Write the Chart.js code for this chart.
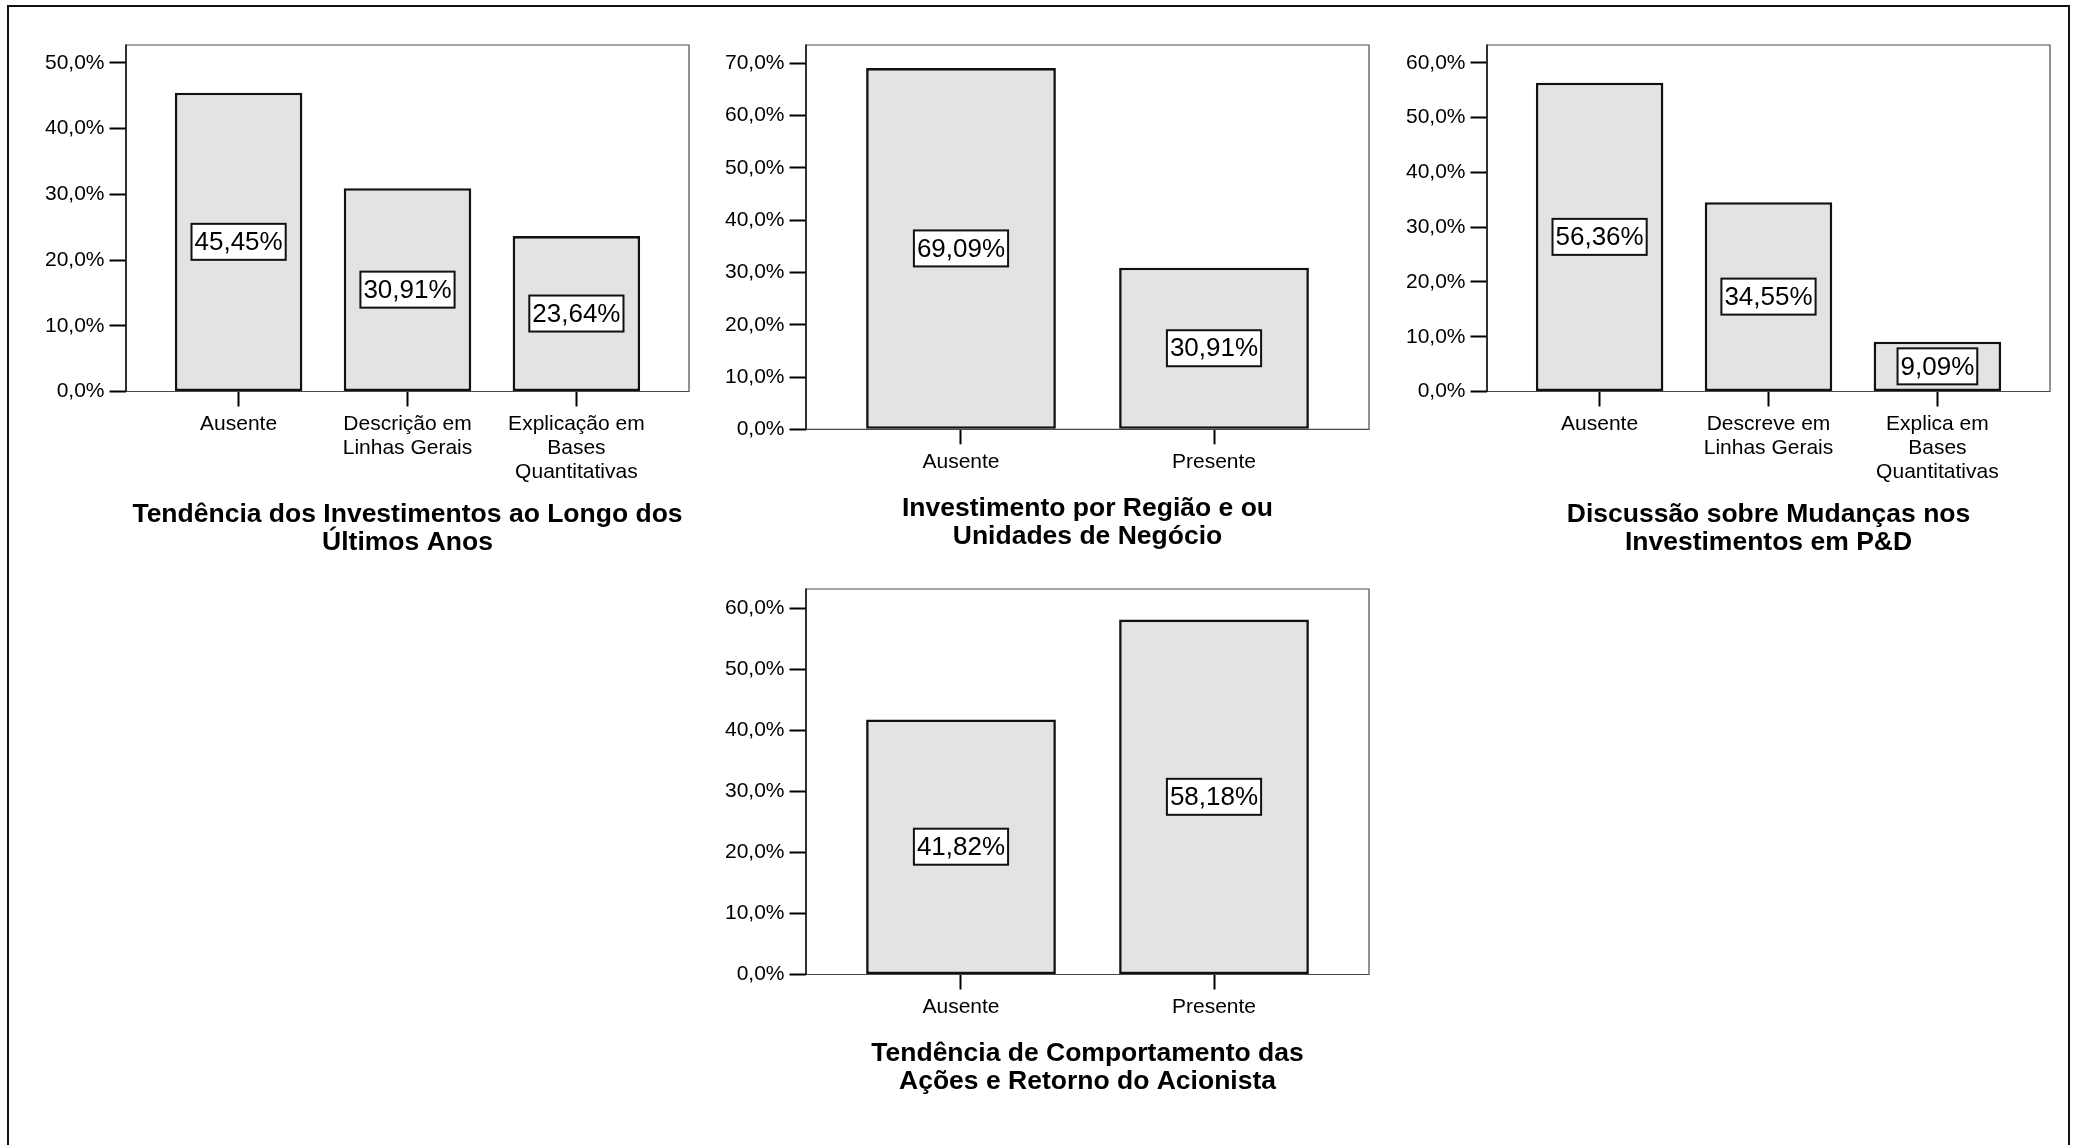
<!DOCTYPE html>
<html lang="pt">
<head>
<meta charset="utf-8">
<title>Evidenciação de investimentos</title>
<script src="https://cdn.jsdelivr.net/npm/chart.js@4/dist/chart.umd.min.js"></script>
<style>
  html, body { margin: 0; padding: 0; background: #fff; }
  #page { position: relative; width: 2082px; height: 1145px; overflow: hidden; background: #fff; }
  #frame { position: absolute; left: 7px; top: 5px; width: 2063px; height: 1200px;
           border: 2px solid #111; box-sizing: border-box; }
  canvas { position: absolute; }
</style>
</head>
<body>
<div id="page">
  <div id="frame"></div>
  <canvas id="c1" width="693" height="532" style="left:6px;top:25px"></canvas>
  <canvas id="c2" width="693" height="526" style="left:686px;top:25px"></canvas>
  <canvas id="c3" width="693" height="532" style="left:1367px;top:25px"></canvas>
  <canvas id="c4" width="693" height="527" style="left:686px;top:569px"></canvas>
</div>
<script>
// Tendência dos investimentos
const trendCategories = ['Ausente', ['Descrição em', 'Linhas Gerais'], ['Explicação em', 'Bases', 'Quantitativas']];
const trendValues = [45.45, 30.91, 23.64];
const trendTicks = [0, 10, 20, 30, 40, 50];
const trendTitle = ['Tendência dos Investimentos ao Longo dos', 'Últimos Anos'];

// Investimento por região / unidade
const regionCategories = ['Ausente', 'Presente'];
const regionValues = [69.09, 30.91];
const regionTicks = [0, 10, 20, 30, 40, 50, 60, 70];
const regionTitle = ['Investimento por Região e ou', 'Unidades de Negócio'];

// Mudanças nos investimentos em P&D
const rdCategories = ['Ausente', ['Descreve em', 'Linhas Gerais'], ['Explica em', 'Bases', 'Quantitativas']];
const rdValues = [56.36, 34.55, 9.09];
const rdTicks = [0, 10, 20, 30, 40, 50, 60];
const rdTitle = ['Discussão sobre Mudanças nos', 'Investimentos em P&D'];

// Comportamento das ações
const shareCategories = ['Ausente', 'Presente'];
const shareValues = [41.82, 58.18];
const shareTicks = [0, 10, 20, 30, 40, 50, 60];
const shareTitle = ['Tendência de Comportamento das', 'Ações e Retorno do Acionista'];

const FONT = '"Liberation Sans", Arial, Helvetica, sans-serif';
const pct1 = v => v.toFixed(1).replace('.', ',') + '%';
const pct2 = v => v.toFixed(2).replace('.', ',') + '%';

// Thin box around the plotting area, drawn beneath the bars
const plotFrame = {
  id: 'plotFrame',
  beforeDatasetsDraw(chart) {
    const { ctx, chartArea: a } = chart;
    ctx.save();
    ctx.strokeStyle = '#4a4a4a';
    ctx.lineWidth = 1.2;
    ctx.beginPath();
    ctx.moveTo(a.left, a.top); ctx.lineTo(a.right, a.top);
    ctx.lineTo(a.right, a.bottom); ctx.lineTo(a.left, a.bottom);
    ctx.stroke();
    ctx.strokeStyle = '#1a1a1a';
    ctx.lineWidth = 1.8;
    ctx.beginPath();
    ctx.moveTo(a.left, a.top - 0.5); ctx.lineTo(a.left, a.bottom + 0.5);
    ctx.stroke();
    ctx.restore();
  }
};

// Boxed percentage label in the middle of each bar
const valueBoxes = {
  id: 'valueBoxes',
  afterDatasetsDraw(chart) {
    const { ctx } = chart;
    const meta = chart.getDatasetMeta(0);
    const pts = chart.data.datasets[0].data;
    ctx.save();
    ctx.font = '26px ' + FONT;
    ctx.textAlign = 'center';
    ctx.textBaseline = 'middle';
    meta.data.forEach((bar, i) => {
      const text = pct2(pts[i].y);
      const w = ctx.measureText(text).width + 6;
      const h = 36;
      const cx = bar.x;
      const cy = (bar.y + bar.base) / 2;
      ctx.fillStyle = '#fff';
      ctx.fillRect(cx - w / 2, cy - h / 2, w, h);
      ctx.lineWidth = 2;
      ctx.strokeStyle = '#111';
      ctx.strokeRect(cx - w / 2, cy - h / 2, w, h);
      ctx.fillStyle = '#000';
      ctx.fillText(text, cx, cy + 1);
    });
    ctx.restore();
  }
};

function barChart(id, cats, values, yTicks, yMax, xPad, title, plotH, barPct) {
  const canvas = document.getElementById(id);
  const padTop = 20, axisW = 120;
  const axisH = canvas.height - padTop - plotH;
  const n = cats.length;
  return new Chart(canvas, {
    type: 'bar',
    data: {
      datasets: [{
        data: values.map((v, i) => ({ x: i, y: v })),
        backgroundColor: '#e3e3e3',
        borderColor: '#111',
        borderWidth: 2.6,
        borderSkipped: false,
        categoryPercentage: 1,
        barPercentage: barPct
      }]
    },
    options: {
      responsive: false,
      animation: false,
      events: [],
      layout: { padding: { top: padTop, right: 10, bottom: 0, left: 0 } },
      plugins: { legend: { display: false }, tooltip: { enabled: false }, title: { display: false } },
      scales: {
        x: {
          type: 'linear',
          offset: false,
          min: -xPad,
          max: n - 1 + xPad,
          afterBuildTicks: s => { s.ticks = cats.map((c, i) => ({ value: i })); },
          afterFit: s => { s.height = axisH; },
          border: { display: false },
          grid: { display: true, offset: false, drawOnChartArea: false, drawTicks: true,
                  tickLength: 15, tickWidth: 2, tickColor: '#000' },
          ticks: {
            autoSkip: false, maxRotation: 0, minRotation: 0, padding: 5.5,
            color: '#000', font: { family: FONT, size: 21, lineHeight: 24 / 21 },
            callback: v => cats[Math.round(v)]
          },
          title: {
            display: true, text: title, color: '#000',
            font: { family: FONT, size: 26.5, weight: 'bold', lineHeight: 1.075 },
            padding: { top: 0, bottom: 0 }
          }
        },
        y: {
          min: 0,
          max: yMax,
          afterBuildTicks: s => { s.ticks = yTicks.map(v => ({ value: v })); },
          afterFit: s => { s.width = axisW; },
          border: { display: false },
          grid: { display: true, drawOnChartArea: false, drawTicks: true,
                  tickLength: 16.5, tickWidth: 2, tickColor: '#000' },
          ticks: {
            padding: 5, color: '#000',
            font: { family: FONT, size: 21 },
            callback: v => pct1(v)
          }
        }
      }
    },
    plugins: [plotFrame, valueBoxes]
  });
}

barChart('c1', trendCategories, trendValues, trendTicks, 52.7, 2 / 3, trendTitle, 346.5, 0.755);
barChart('c2', regionCategories, regionValues, regionTicks, 73.5, 0.6126, regionTitle, 384.3, 0.75);
barChart('c3', rdCategories, rdValues, rdTicks, 63.25, 2 / 3, rdTitle, 346.5, 0.755);
barChart('c4', shareCategories, shareValues, shareTicks, 63.2, 0.6126, shareTitle, 385.5, 0.75);
</script>
</body>
</html>
